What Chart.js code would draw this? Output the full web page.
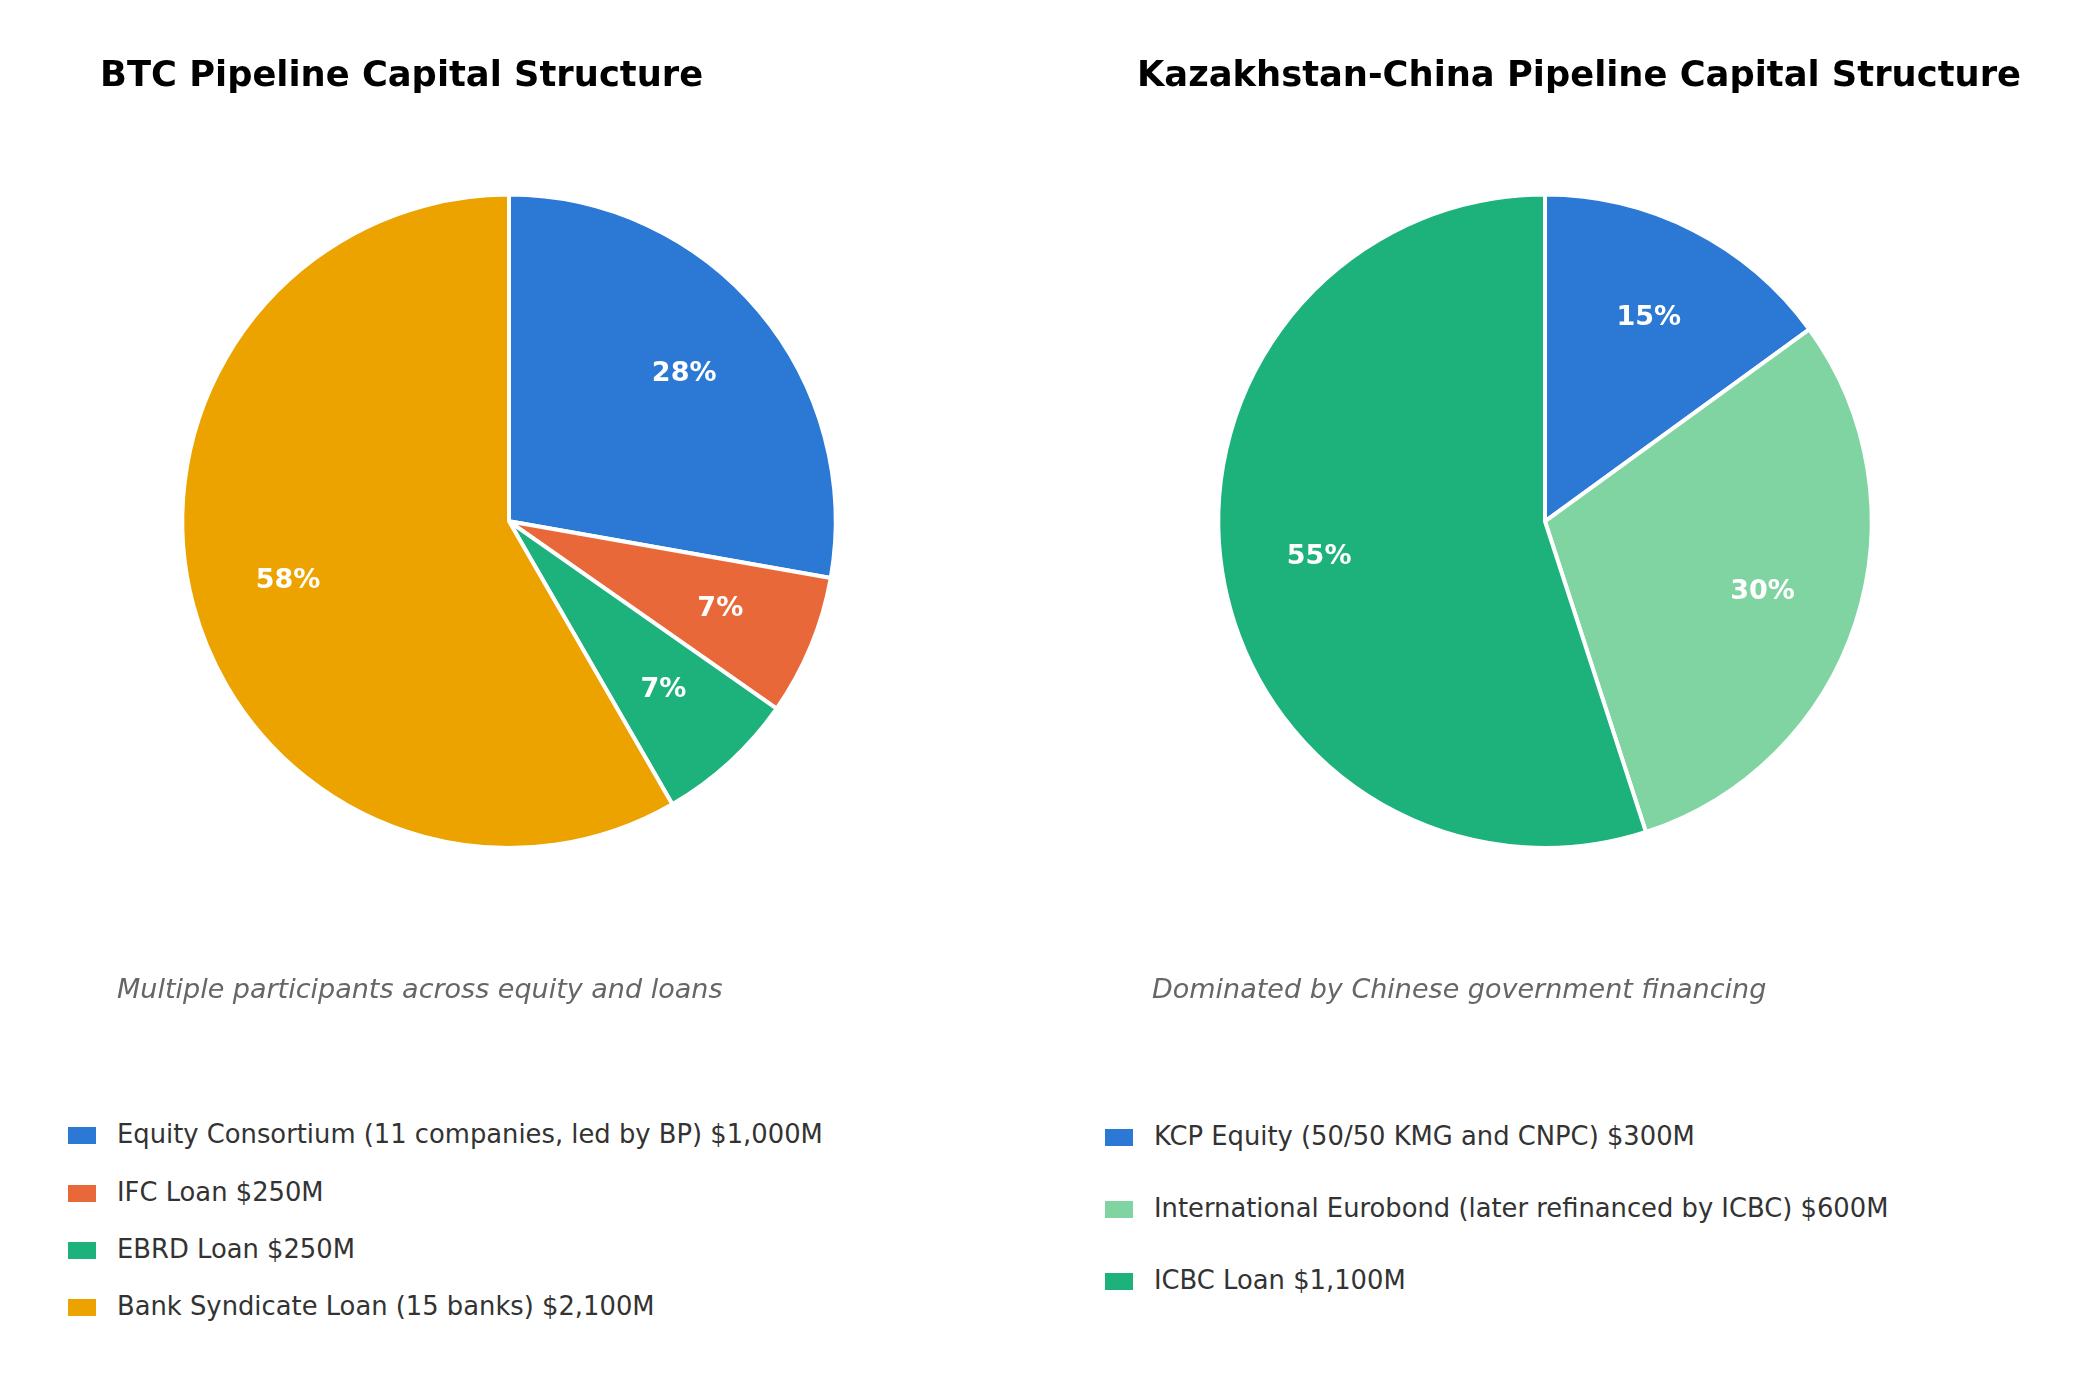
<!DOCTYPE html>
<html>
<head>
<meta charset="utf-8">
<script src="https://cdn.jsdelivr.net/npm/chart.js@4.4.1/dist/chart.umd.min.js"></script>
<style>
  html, body { margin: 0; padding: 0; background: #fff; }
  body { width: 2078px; height: 1375px; position: relative; overflow: hidden; font-family: "DejaVu Sans", sans-serif; }
  .panel { position: absolute; top: 0; width: 1039px; height: 1375px; }
  .chartBox { position: absolute; left: 0; top: 0; width: 1039px; height: 1050px; }
  .title { position: absolute; top: 55.5px; font-weight: bold; font-size: 35.3px; color: #000; white-space: nowrap; line-height: 1; }
  .note { position: absolute; top: 974.7px; font-style: italic; font-size: 27px; color: #666; white-space: nowrap; line-height: 1; }
  .item { position: absolute; white-space: nowrap; font-size: 25.8px; color: #333; line-height: 1; }
  .item .sw { position: absolute; left: 0; top: 0; width: 28px; height: 17px; margin-top: -8px; }
  .item span.txt { position: absolute; left: 49px; top: 0; transform: translateY(-50%); }
</style>
</head>
<body>
<div class="panel" id="p1" style="left:0">
  <div class="chartBox"><canvas id="btcChart"></canvas></div>
</div>
<div class="panel" id="p2" style="left:1039px">
  <div class="chartBox"><canvas id="kcChart"></canvas></div>
</div>
<script>
// BTC pipeline
const btcTitle = "BTC Pipeline Capital Structure";
const btcNote = "Multiple participants across equity and loans";
const btcLabels = [
  "Equity Consortium (11 companies, led by BP) $1,000M",
  "IFC Loan $250M",
  "EBRD Loan $250M",
  "Bank Syndicate Loan (15 banks) $2,100M"
];
const btcValues = [1000, 250, 250, 2100];
const btcColors = ["#2b78d5", "#e9683a", "#1db17b", "#eca300"];

// Kazakhstan-China pipeline
const kcTitle = "Kazakhstan-China Pipeline Capital Structure";
const kcNote = "Dominated by Chinese government financing";
const kcLabels = [
  "KCP Equity (50/50 KMG and CNPC) $300M",
  "International Eurobond (later refinanced by ICBC) $600M",
  "ICBC Loan $1,100M"
];
const kcValues = [300, 600, 1100];
const kcColors = ["#2b78d5", "#80d4a2", "#1db17b"];

Chart.defaults.font.family = "DejaVu Sans";

// percent labels inside the slices, like autopct
const pctLabels = {
  id: "pctLabels",
  afterDatasetsDraw(chart) {
    const ctx = chart.ctx;
    const meta = chart.getDatasetMeta(0);
    const vals = chart.data.datasets[0].data;
    const total = vals.reduce((a, b) => a + b, 0);
    ctx.save();
    ctx.fillStyle = "#fff";
    ctx.font = "bold 27px 'DejaVu Sans'";
    ctx.textAlign = "center";
    ctx.textBaseline = "middle";
    meta.data.forEach((arc, i) => {
      const mid = (arc.startAngle + arc.endAngle) / 2;
      const r = arc.outerRadius * 0.7;
      ctx.fillText(Math.round(vals[i] / total * 100) + "%", arc.x + Math.cos(mid) * r, arc.y + Math.sin(mid) * r);
    });
    ctx.restore();
  }
};

function makePie(id, labels, values, colors, padRight) {
  const ctx = document.getElementById(id).getContext("2d");
  return new Chart(ctx, {
    type: "pie",
    data: {
      labels: labels,
      datasets: [{
        data: values,
        backgroundColor: colors,
        borderColor: "#fff",
        borderWidth: 4,
        radius: 326.7
      }]
    },
    options: {
      responsive: true,
      maintainAspectRatio: false,
      animation: false,
      events: [],
      layout: { padding: { left: 0, right: padRight, top: 0, bottom: 7.4 } },
      plugins: {
        legend: { display: false },
        tooltip: { enabled: false },
        title: { display: false }
      }
    },
    plugins: [pctLabels]
  });
}

function makeText(panelId, title, note, labels, colors, pos) {
  const panel = document.getElementById(panelId);
  const t = document.createElement("div");
  t.className = "title";
  t.textContent = title;
  t.style.left = pos.titleLeft + "px";
  panel.appendChild(t);
  const n = document.createElement("div");
  n.className = "note";
  n.textContent = note;
  n.style.left = pos.noteLeft + "px";
  panel.appendChild(n);
  labels.forEach((lab, i) => {
    const it = document.createElement("div");
    it.className = "item";
    it.style.left = pos.legLeft + "px";
    it.style.top = (pos.legTop + i * pos.gap) + "px";
    const sw = document.createElement("div");
    sw.className = "sw";
    sw.style.background = colors[i];
    const tx = document.createElement("span");
    tx.className = "txt";
    tx.textContent = lab;
    it.appendChild(sw);
    it.appendChild(tx);
    panel.appendChild(it);
  });
}

makePie("btcChart", btcLabels, btcValues, btcColors, 21);
makePie("kcChart", kcLabels, kcValues, kcColors, 27);
makeText("p1", btcTitle, btcNote, btcLabels, btcColors,
  { titleLeft: 100, noteLeft: 117, legLeft: 68, legTop: 1135.4, gap: 57.3 });
makeText("p2", kcTitle, kcNote, kcLabels, kcColors,
  { titleLeft: 98, noteLeft: 113, legLeft: 66, legTop: 1136.7, gap: 72 });
</script>
</body>
</html>
